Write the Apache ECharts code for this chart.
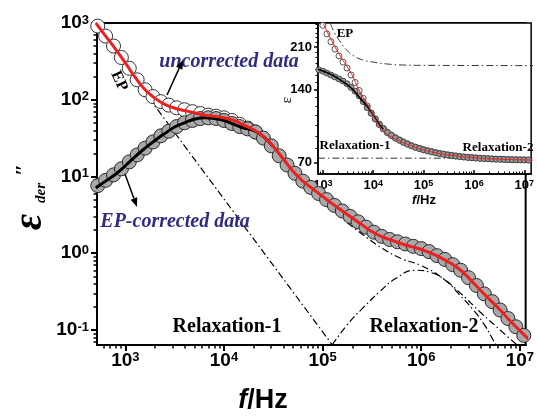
<!DOCTYPE html>
<html>
<head>
<meta charset="utf-8">
<script src="https://cdn.jsdelivr.net/npm/echarts@6/dist/echarts.min.js"></script>
<style>
  html, body { margin: 0; padding: 0; background: #fff; }
  #chart { width: 537px; height: 418px; }
</style>
</head>
<body>
<div id="chart"></div>
<script>
// ---- main panel: loss spectra (Hz / eps'') ----
var freq = [525, 631, 759, 912, 1096, 1318, 1585, 1905, 2291, 2754, 3311, 3981, 4786, 5754, 6918, 8318,
  10000, 12023, 14454, 17378, 20893, 25119, 30200, 36308, 43652, 52481, 63096, 75858, 91201,
  109648, 131826, 158489, 190546, 229087, 275423, 331131, 398107, 478630, 575440, 691831, 831764,
  1000000, 1202264, 1445440, 1737801, 2089296, 2511886, 3019952, 3630781, 4365158, 5248075,
  6309573, 7585776, 9120108, 10964782];
// EP-corrected data (grey filled circles)
var corrected = [7.6, 8.9, 10.5, 12.6, 15.5, 19.1, 23.4, 28.2, 33.9, 38.9, 44.7, 50.1, 53.7, 56.9, 58.2, 56.9,
  53.7, 49.0, 44.7, 41.7, 38.0, 31.6, 25.1, 18.6, 14.1, 11.0, 8.7, 7.2, 6.0,
  5.0, 4.2, 3.55, 3.02, 2.57, 2.19, 1.88, 1.66, 1.51, 1.41, 1.32, 1.23,
  1.15, 1.05, 0.93, 0.83, 0.71, 0.60, 0.48, 0.38, 0.295, 0.234,
  0.182, 0.141, 0.110, 0.085];
// uncorrected data (open circles), first 21 frequencies
var uncorrected = [912, 676, 501, 355, 257, 182, 135, 110, 94.4, 85.1, 78.5, 74.1, 70.0, 66.1, 63.1, 61.0,
  58.2, 53.7, 47.9, 42.7, 38.0];

// fit curves
var fitFreq = [501, 631, 794, 1000, 1259, 1585, 1995, 2512, 3162, 3981, 5012, 6310, 7943, 10000, 12589,
  15849, 19953, 25119, 31623, 39811, 50119, 63096, 79433, 100000, 125893, 158489, 199526, 251189,
  316228, 398107, 501187, 630957, 794328, 1000000, 1258925, 1584893, 1995262, 2511886, 3162278,
  3981072, 5011872, 6309573, 7943282, 10000000, 12589254];
var redFit = [1000, 676, 457, 302, 195, 135, 105, 87, 77.6, 72.4, 67.6, 63.1, 61.0, 58.2, 53.7,
  46.8, 40.7, 33.1, 24.5, 17.0, 11.7, 8.7, 6.9, 5.5, 4.4, 3.55, 2.88, 2.34,
  1.91, 1.64, 1.48, 1.33, 1.22, 1.12, 1.0, 0.87, 0.74, 0.60, 0.45,
  0.33, 0.245, 0.182, 0.132, 0.098, 0.074];
var blackFit = [7.1, 8.7, 10.7, 13.8, 18.2, 23.4, 29.5, 36.3, 44.2, 50.1, 55.6, 58.2, 56.9, 53.7, 47.9,
  42.7, 39.8, 33.1, 24.5];

// dash-dot components
var epFreq = [516, 125600];
var epVal = [861, 0.0638];
var relax1Freq = [39811, 63096, 100000, 158489, 251189, 398107, 630957, 1000000, 1584893, 2511886, 3981072, 6309573, 9332543];
var relax1Val = [14.5, 7.6, 4.57, 2.82, 1.78, 1.17, 0.85, 0.69, 0.49, 0.30, 0.17, 0.10, 0.064];
var relax2Freq = [125600, 177800, 263000, 380000, 550000, 870000, 1260000, 1740000, 2400000, 3430000, 4470000, 5370000, 5750000];
var relax2Val = [0.064, 0.117, 0.20, 0.316, 0.468, 0.60, 0.56, 0.447, 0.295, 0.178, 0.112, 0.074, 0.064];

// ---- inset: eps' ----
var insetFreq = [832, 1000, 1202, 1445, 1738, 2089, 2512, 3020, 3631, 4365, 5248, 6310, 7586, 9120,
  10965, 13183, 15849, 19055, 22909, 27542, 33113, 39811, 47863, 57544, 69183, 83176, 100000,
  120226, 144544, 173780, 208930, 251189, 301995, 363078, 436516, 524807, 630957, 758578, 912011,
  1096478, 1318257, 1584893, 1905461, 2290868, 2754229, 3311311, 3981072, 4786301, 5754399,
  6918310, 8317638, 10000000, 12022644, 14454398];
var insetCorrected = [169, 167, 164, 161, 158, 155, 152, 148, 143, 138, 132, 125, 118, 112,
  106, 100.5, 96.5, 93, 90.5, 88.3, 86.5, 84.8, 83.3, 82, 80.9, 79.9, 79,
  78.2, 77.5, 76.8, 76.2, 75.7, 75.2, 74.8, 74.4, 74.1, 73.8, 73.5, 73.3,
  73.1, 72.9, 72.7, 72.6, 72.4, 72.3, 72.2, 72.1, 72.0, 71.9,
  71.9, 71.8, 71.8, 71.7, 71.7];
var insetUncorrected = [null, 258, 238, 221, 206, 193, 182, 172, 161, 150, 139, 129, 120, 112,
  106, 101, 97, 93.5, 91, 88.8, 86.9, 85.2, 83.7, 82.3, 81.1, 80.1, 79.2,
  78.4, 77.7, 77.0, 76.4, 75.9, 75.4, 75.0, 74.6, 74.2, 73.9, 73.6, 73.4,
  73.2, 73.0, 72.8, 72.7, 72.5, 72.4, 72.3, 72.2, 72.1, 72.0,
  72.0, 71.9, 71.9, 71.8, 71.8];
var insetFitFreq = [1000, 1259, 1585, 1995, 2512, 3162, 3981, 5012, 6310, 7943, 10000, 12589, 15849,
  19953, 25119, 31623, 39811, 63096, 100000, 158489, 251189, 398107, 630957, 1000000, 1995262,
  3981072, 10000000, 15848932];
var insetRedFit = [265, 240, 218, 200, 185, 172, 158, 142, 130, 120, 110, 101, 95,
  91, 88.5, 86.5, 84.5, 81.5, 79, 77.2, 75.8, 74.8, 74, 73.3, 72.6,
  72.2, 71.8, 71.6];
var insetBlackFreq = [794, 1259, 1995, 3162, 3981, 5012, 6310, 7943, 10000, 12589, 15849];
var insetBlackFit = [170, 164, 156, 146, 140, 132, 125, 118, 110, 102, 96];
var insetEpFreq = [1413, 1718, 2239, 2917, 3981, 6026, 10000, 17783, 39811, 100000, 15848932];
var insetEpVal = [262, 240, 220, 205, 194, 186, 182, 179, 177, 176.5, 176];
var insetR1Freq = [795, 15000000];
var insetR1Val = [73, 73];

function pairs(xs, ys) {
  var out = [];
  for (var i = 0; i < ys.length; i++) {
    if (ys[i] != null) out.push([xs[i], ys[i]]);
  }
  return out;
}

function decadeTicks(lo, hi) {
  var maj = [], min = [];
  for (var e = -2; e <= 8; e++) {
    var d = Math.pow(10, e);
    if (d >= lo && d <= hi) maj.push(d);
    for (var k = 2; k <= 9; k++) {
      var v = k * d;
      if (v >= lo && v <= hi) min.push(+v.toPrecision(3));
    }
  }
  return {maj: maj, min: min};
}

function pow10(v) {
  var e = Math.round(Math.log10(v));
  return '{b|10}{s|' + e + '}';
}

function powRich(big, small, pad) {
  return {
    b: {fontFamily: 'Liberation Sans', fontWeight: 'bold', fontSize: big, color: '#000',
        lineHeight: big, padding: [pad, 0, 0, 0], verticalAlign: 'bottom'},
    s: {fontFamily: 'Liberation Sans', fontWeight: 'bold', fontSize: small, color: '#000',
        lineHeight: small, verticalAlign: 'top'}
  };
}

var mainX = {min: 516, max: 11460000};
var mainY = {min: 0.0637, max: 1000};
var insX = {min: 800, max: 13700000};
var insY = {min: 62.8, max: 264};

var mxT = decadeTicks(mainX.min, mainX.max);
var myT = decadeTicks(mainY.min, mainY.max);
var ixT = decadeTicks(insX.min, insX.max);
var iyMinor = [80, 90, 100, 110, 120, 130, 150, 160, 170, 180, 190, 200, 220, 230, 240, 250, 260];

var blk = '#000';
var dashDot = [7, 3, 1.5, 3];

function majorAxis(kind, grid, ext, ticks, labelCfg, tickCfg, lineW) {
  return {
    type: 'log', logBase: 10, gridIndex: grid, min: ext.min, max: ext.max,
    position: kind === 'x' ? 'bottom' : 'left',
    axisLine: {show: true, lineStyle: {color: blk, width: lineW}},
    axisTick: {show: true, inside: tickCfg.inside, length: tickCfg.len,
               lineStyle: {color: blk, width: lineW}, customValues: ticks},
    axisLabel: labelCfg,
    minorTick: {show: false},
    splitLine: {show: false}
  };
}

function minorAxis(kind, grid, ext, ticks, len, inside, w) {
  return {
    type: 'log', logBase: 10, gridIndex: grid, min: ext.min, max: ext.max,
    position: kind === 'x' ? 'bottom' : 'left',
    axisLine: {show: false},
    axisTick: {show: true, inside: inside, length: len, lineStyle: {color: blk, width: w}, customValues: ticks},
    axisLabel: {show: false},
    splitLine: {show: false}
  };
}

var chart = echarts.init(document.getElementById('chart'), null, {renderer: 'canvas'});

function arrow(x1, y1, x2, y2) {
  var dx = x2 - x1, dy = y2 - y1, L = Math.sqrt(dx * dx + dy * dy);
  var ux = dx / L, uy = dy / L, nx = -uy, ny = ux;
  var bx = x2 - 9 * ux, by = y2 - 9 * uy;
  return [
    {type: 'line', shape: {x1: x1, y1: y1, x2: bx, y2: by}, style: {stroke: blk, lineWidth: 1.5}, z: 20},
    {type: 'polygon', shape: {points: [[x2, y2], [bx + 3.5 * nx, by + 3.5 * ny], [bx - 3.5 * nx, by - 3.5 * ny]]},
     style: {fill: blk}, z: 20}
  ];
}

function txt(x, y, text, font, color, rot, align) {
  return {type: 'text', x: x, y: y, rotation: rot || 0, z: 20,
    style: {text: text, font: font, fill: color || blk, textAlign: align || 'center', textVerticalAlign: 'middle'}};
}

var navy = '#2f2d7e';
var serifB = 'bold 20px "Liberation Serif"';

var graphics = [
  txt(229, 62, 'uncorrected data', 'italic bold 20px "Liberation Serif"', navy),
  txt(175, 222, 'EP-corrected data', 'italic bold 20px "Liberation Serif"', navy),
  txt(119, 81, 'EP', 'bold 16px "Liberation Serif"', blk, -1.14),
  txt(227, 327, 'Relaxation-1', serifB),
  txt(424, 327, 'Relaxation-2', serifB),
  // main axis titles
  {type: 'text', x: 263, y: 401, z: 20,
   style: {text: '{i|f}{n|/Hz}', textAlign: 'center', textVerticalAlign: 'middle',
     rich: {i: {fontFamily: 'Liberation Sans', fontStyle: 'italic', fontWeight: 'bold', fontSize: 27},
            n: {fontFamily: 'Liberation Sans', fontWeight: 'bold', fontSize: 27}}}},
  txt(31, 222, 'ε', 'italic bold 40px "Liberation Serif"', blk, Math.PI / 2),
  txt(24, 170, '″', 'bold 22px "Liberation Serif"', blk, Math.PI / 2),
  txt(41, 193, 'der', 'italic bold 15px "Liberation Serif"', blk, Math.PI / 2),
  // inset texts
  txt(345, 34, 'EP', 'bold 13px "Liberation Serif"'),
  txt(355, 146, 'Relaxation-1', 'bold 13px "Liberation Serif"'),
  txt(498, 148, 'Relaxation-2', 'bold 13px "Liberation Serif"'),
  txt(287, 100, 'ε', '15px "Liberation Serif"', blk, Math.PI / 2),
  {type: 'text', x: 424, y: 200, z: 20,
   style: {text: '{i|f}{n|/Hz}', textAlign: 'center', textVerticalAlign: 'middle',
     rich: {i: {fontFamily: 'Liberation Sans', fontStyle: 'italic', fontWeight: 'bold', fontSize: 13},
            n: {fontFamily: 'Liberation Sans', fontWeight: 'bold', fontSize: 13}}}}
].concat(arrow(167, 95, 183, 60)).concat(arrow(125, 174, 137, 207));

chart.setOption({
  animation: false,
  backgroundColor: '#fff',
  grid: [
    {left: 97, top: 23, width: 439, height: 322, show: true, borderColor: blk, borderWidth: 2, backgroundColor: 'transparent'},
    {left: 318, top: 23, width: 218, height: 151, show: true, borderColor: blk, borderWidth: 1.5, backgroundColor: '#fff'}
  ],
  xAxis: [
    majorAxis('x', 0, mainX, mxT.maj, {show: true, margin: 6, customValues: mxT.maj, formatter: pow10, rich: powRich(19, 13, 7)}, {inside: false, len: 6}, 2),
    minorAxis('x', 0, mainX, mxT.min, 3.5, false, 1.5),
    majorAxis('x', 1, insX, ixT.maj, {show: true, margin: 5, customValues: ixT.maj, formatter: pow10, rich: powRich(13, 9, 5)}, {inside: true, len: 4}, 1.5),
    minorAxis('x', 1, insX, ixT.min, 2.5, true, 1)
  ],
  yAxis: [
    majorAxis('y', 0, mainY, myT.maj, {show: true, margin: 8, customValues: myT.maj, formatter: pow10, rich: powRich(19, 13, 7)}, {inside: false, len: 6}, 2),
    minorAxis('y', 0, mainY, myT.min, 3.5, false, 1.5),
    majorAxis('y', 1, insY, [70, 140, 210], {show: true, margin: 6, customValues: [70, 140, 210],
      fontFamily: 'Liberation Sans', fontWeight: 'bold', fontSize: 13, color: blk}, {inside: false, len: 4}, 1.5),
    minorAxis('y', 1, insY, iyMinor, 2.5, false, 1)
  ],
  series: [
    {type: 'line', xAxisIndex: 0, yAxisIndex: 0, data: pairs(epFreq, epVal), showSymbol: false, z: 1,
     lineStyle: {color: blk, width: 1.2, type: dashDot}},
    {type: 'line', xAxisIndex: 0, yAxisIndex: 0, data: pairs(relax1Freq, relax1Val), smooth: true, showSymbol: false, z: 1,
     lineStyle: {color: blk, width: 1.2, type: dashDot}},
    {type: 'line', xAxisIndex: 0, yAxisIndex: 0, data: pairs(relax2Freq, relax2Val), smooth: true, showSymbol: false, z: 1,
     lineStyle: {color: blk, width: 1.2, type: dashDot}},
    {type: 'scatter', xAxisIndex: 0, yAxisIndex: 0, data: pairs(freq, uncorrected), symbol: 'circle', symbolSize: 14, z: 2,
     itemStyle: {color: '#fff', borderColor: '#333', borderWidth: 1, opacity: 1}},
    {type: 'scatter', xAxisIndex: 0, yAxisIndex: 0, data: pairs(freq, corrected), symbol: 'circle', symbolSize: 14, z: 3,
     itemStyle: {color: '#a9a9a9', borderColor: '#2a2a2a', borderWidth: 1, opacity: 1}},
    {type: 'line', xAxisIndex: 0, yAxisIndex: 0, data: pairs(fitFreq, blackFit), smooth: true, showSymbol: false, z: 4,
     lineStyle: {color: blk, width: 3}},
    {type: 'line', xAxisIndex: 0, yAxisIndex: 0, data: pairs(fitFreq, redFit), smooth: true, showSymbol: false, z: 5,
     lineStyle: {color: '#ee1f1f', width: 3}},

    // inset
    {type: 'line', xAxisIndex: 2, yAxisIndex: 2, data: pairs(insetEpFreq, insetEpVal), smooth: true, showSymbol: false, z: 6,
     lineStyle: {color: '#333', width: 1, type: dashDot}},
    {type: 'line', xAxisIndex: 2, yAxisIndex: 2, data: pairs(insetR1Freq, insetR1Val), showSymbol: false, z: 6,
     lineStyle: {color: '#333', width: 1, type: dashDot}},
    {type: 'scatter', xAxisIndex: 2, yAxisIndex: 2, data: pairs(insetFreq, insetUncorrected), symbol: 'circle', symbolSize: 6, z: 7,
     itemStyle: {color: '#fff', borderColor: '#555', borderWidth: 1, opacity: 1}},
    {type: 'scatter', xAxisIndex: 2, yAxisIndex: 2, data: pairs(insetFreq, insetCorrected), symbol: 'circle', symbolSize: 6, z: 8,
     itemStyle: {color: '#9a9a9a', borderColor: '#333', borderWidth: 0.8, opacity: 1}},
    {type: 'line', xAxisIndex: 2, yAxisIndex: 2, data: pairs(insetBlackFreq, insetBlackFit), smooth: true, showSymbol: false, z: 9,
     lineStyle: {color: blk, width: 1.6}},
    {type: 'line', xAxisIndex: 2, yAxisIndex: 2, data: pairs(insetFitFreq, insetRedFit), smooth: true, showSymbol: false, z: 10,
     lineStyle: {color: '#ee1f1f', width: 1}}
  ],
  graphic: graphics
});
</script>
</body>
</html>
